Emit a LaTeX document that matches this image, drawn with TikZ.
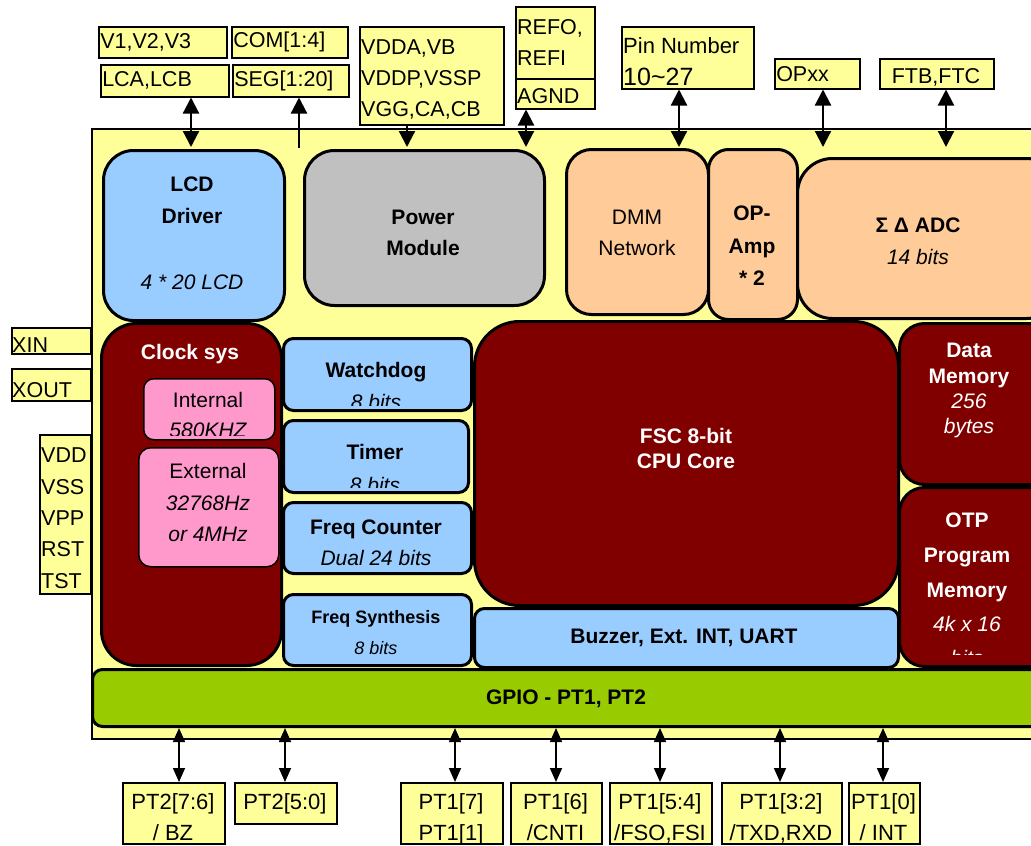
\documentclass[tikz,border=0pt]{standalone}
\usepackage{fontspec}
\setmainfont{Liberation Sans}
\usetikzlibrary{arrows.meta}
\definecolor{ylw}{HTML}{FFFF99}
\definecolor{blu}{HTML}{99CCFF}
\definecolor{gry}{HTML}{C0C0C0}
\definecolor{pch}{HTML}{FFCC99}
\definecolor{drd}{HTML}{800000}
\definecolor{pnk}{HTML}{FF99CC}
\definecolor{grn}{HTML}{99CC00}
\newcommand\myfs[2]{\fontsize{#1}{#2}\selectfont}
\begin{document}
\begin{tikzpicture}[x=1pt,y=-1pt,
  blk/.style={draw, line width=3pt, anchor=north west, inner sep=0pt},
  thinblk/.style={draw, line width=1.5pt, anchor=north west, inner sep=0pt},
  lbl/.style={draw, line width=1.5pt, fill=ylw, anchor=north west, inner xsep=1.5pt, inner ysep=0pt, align=left, font=\myfs{21.5}{25}},
  pinbox/.style={draw, line width=1.5pt, fill=ylw, anchor=north west, inner sep=0pt},
  txt/.style={inner sep=0pt, text height=15pt, text depth=0pt},
  tb/.style={txt, font=\bfseries\myfs{21}{25}},
  ti/.style={txt, font=\itshape\myfs{21}{25}},
  tr/.style={txt, font=\myfs{21}{25}},
  tl/.style={txt, anchor=west, font=\myfs{21.5}{25}},
  tbot/.style={inner sep=0pt, text height=16pt, text depth=0pt, font=\myfs{22}{25}},
  tw/.style={text=white},
  dar/.style={line width=2.2pt, {Triangle[length=16pt,width=16pt]}-{Triangle[length=16pt,width=16pt]}},
  sar/.style={line width=2.2pt, -{Triangle[length=16pt,width=16pt]}},
  gar/.style={line width=1.6pt, {Triangle[length=14pt,width=12pt]}-{Triangle[length=14pt,width=12pt]}}
]
\useasboundingbox (0,0) rectangle (1031,846);
\begin{scope}
\clip (0,0) rectangle (1031,846);
\fill[white] (0,0) rectangle (1031,846);

% chip outline
\node[pinbox, minimum width=969, minimum height=610] (chip) at (91,128) {};

% ---------- blocks ----------
\node[blk, fill=blu, rounded corners=30pt, minimum width=181, minimum height=170] (lcd) at (102,149) {};
\node[blk, fill=gry, rounded corners=30pt, minimum width=240, minimum height=155] (pwr) at (303,149) {};
\node[blk, fill=pch, rounded corners=25pt, minimum width=142, minimum height=165] (dmm) at (565,148) {};
\node[blk, fill=pch, rounded corners=20pt, minimum width=89, minimum height=170] (opa) at (707,148) {};
\node[blk, fill=pch, rounded corners=35pt, minimum width=264, minimum height=160] (adc) at (796,157) {};
\node[blk, fill=drd, rounded corners=35pt, minimum width=180, minimum height=342] (clk) at (100,322) {};
\node[thinblk, fill=pnk, rounded corners=10pt, minimum width=131, minimum height=61] (int) at (143,378) {};
\node[thinblk, fill=pnk, rounded corners=12pt, minimum width=140, minimum height=119] (ext) at (138,447) {};
\node[blk, fill=blu, rounded corners=10pt, minimum width=188, minimum height=72] (wdg) at (282,337) {};
\node[blk, fill=blu, rounded corners=10pt, minimum width=185, minimum height=72] (tmr) at (282,419) {};
\node[blk, fill=blu, rounded corners=10pt, minimum width=188, minimum height=71] (fct) at (282,501) {};
\node[blk, fill=blu, rounded corners=10pt, minimum width=188, minimum height=71] (fsy) at (282,593) {};
\node[blk, fill=drd, rounded corners=45pt, minimum width=424, minimum height=284] (cpu) at (473,320) {};
\node[blk, fill=blu, rounded corners=10pt, minimum width=424, minimum height=59] (buz) at (473,607) {};
\node[blk, fill=drd, rounded corners=25pt, minimum width=162, minimum height=161] (dmem) at (898,322) {};
\node[blk, fill=drd, rounded corners=25pt, minimum width=162, minimum height=179] (otp) at (898,486) {};
\node[blk, fill=grn, rounded corners=10pt, minimum width=969, minimum height=57] (gpio) at (91,668) {};

% ---------- block texts ----------
\node[tb] (lcdA) at (192,184) {LCD};
\node[tb] (lcdB) at (192,216) {Driver};
\node[ti] (lcdC) at (192,282) {4 * 20 LCD};
\node[tb] (pwrA) at (423,217) {Power};
\node[tb] (pwrB) at (423,248) {Module};
\node[tr] (dmmA) at (637,217) {DMM};
\node[tr] (dmmB) at (637,248) {Network};
\node[tb] (opaA) at (752,213) {OP-};
\node[tb] (opaB) at (752,246) {Amp};
\node[tb] (opaC) at (752,278) {* 2};
\node[tb] (adcA) at (918,225) {Σ Δ ADC};
\node[ti] (adcB) at (918,257) {14 bits};
\node[tb, tw] (clkA) at (190,352) {Clock sys};
\node[tr] (intA) at (208,400) {Internal};
\begin{scope}
\clip (144,379) rectangle (273,435);
\node[ti] (intB) at (208,430) {580KHZ};
\end{scope}
\node[tr] (extA) at (208,471) {External};
\node[ti] (extB) at (208,503) {32768Hz};
\node[ti] (extC) at (208,534) {or 4MHz};
\node[tb] (wdgA) at (376,370) {Watchdog};
\begin{scope}
\clip (284,339) rectangle (468,405);
\node[ti] (wdgB) at (376,401.5) {8 bits};
\end{scope}
\node[tb] (tmrA) at (375,452) {Timer};
\begin{scope}
\clip (284,421) rectangle (465,487);
\node[ti] (tmrB) at (375,484.5) {8 bits};
\end{scope}
\node[tb] (fctA) at (376,527) {Freq Counter};
\node[ti] (fctB) at (376,558) {Dual 24 bits};
\node[tb, font=\bfseries\myfs{18}{22}, text height=13pt] (fsyA) at (376,617) {Freq Synthesis};
\node[ti, font=\itshape\myfs{18}{22}, text height=13pt] (fsyB) at (376,648) {8 bits};
\node[tb, tw] (cpuA) at (686,436) {FSC 8-bit};
\node[tb, tw] (cpuB) at (686,461) {CPU Core};
\node[tb] (buzA) at (684,636) {Buzzer, Ext. INT, UART};
\node[tb, tw] (dmemA) at (969,350) {Data};
\node[tb, tw] (dmemB) at (969,376) {Memory};
\node[ti, tw] (dmemC) at (969,401) {256};
\node[ti, tw] (dmemD) at (969,426) {bytes};
\node[tb, tw] (otpA) at (967,520) {OTP};
\node[tb, tw] (otpB) at (967,555) {Program};
\node[tb, tw] (otpC) at (967,590) {Memory};
\node[ti, tw] (otpD) at (967,624) {4k x 16};
\begin{scope}
\clip (900,488) rectangle (1031,654);
\node[ti, tw] (otpE) at (967,657.5) {bits};
\end{scope}
\node[tb] (gpioA) at (566,697) {GPIO - PT1, PT2};

% ---------- top pins ----------
\node[lbl, text width=125pt, minimum height=31] (v123) at (98,26) {V1,V2,V3};
\node[lbl, text width=125pt, minimum height=32] (lca) at (100,64) {LCA,LCB};
\node[lbl, text width=113pt, minimum height=31] (com) at (231,26) {COM[1:4]};
\node[lbl, text width=113pt, minimum height=32] (seg) at (232,64) {SEG[1:20]};
\node[pinbox, minimum width=144, minimum height=98] (vdda) at (359,26) {};
\node[tl] (vddaA) at (361,47) {VDDA,VB};
\node[tl] (vddaB) at (361,78) {VDDP,VSSP};
\node[tl] (vddaC) at (361,109) {VGG,CA,CB};
\node[pinbox, minimum width=79, minimum height=102] (refo) at (515,6) {};
\node[tl] (refoA) at (517,27) {REFO,};
\node[tl] (refoB) at (517,58) {REFI};
\node[tl] (refoC) at (517,96) {AGND};
\coordinate (sepA) at (0,79);
\draw[line width=1.5pt] (refo.west |- sepA) -- (refo.east |- sepA);
\node[pinbox, minimum width=132, minimum height=62] (pin) at (621,26) {};
\node[tl, font=\myfs{22}{25}] (pinA) at (623,46) {Pin Number};
\node[tl, font=\myfs{25}{28}, text height=18pt] (pinB) at (623,76) {10\textasciitilde 27};
\node[lbl, text width=82pt, minimum height=30] (opxx) at (774,58) {OPxx};
\node[pinbox, minimum width=114, minimum height=30] (ftb) at (879,58) {};
\node[txt, font=\myfs{21.5}{25}] (ftbA) at (936,76) {FTB,FTC};

% ---------- left pins ----------
\node[pinbox, minimum width=79, minimum height=26] (xin) at (11,327) {};
\node[txt, anchor=base west, font=\myfs{21.5}{25}] (xinA) at (12,352) {XIN};
\node[pinbox, minimum width=79, minimum height=32] (xout) at (11,368) {};
\node[txt, anchor=base west, font=\myfs{21.5}{25}] (xoutA) at (12,397) {XOUT};
\node[pinbox, minimum width=51, minimum height=159] (vdd) at (39,434) {};
\node[tl] (vddA) at (41,455) {VDD};
\node[tl] (vddB) at (41,487) {VSS};
\node[tl] (vddC) at (41,518) {VPP};
\node[tl] (vddD) at (41,549) {RST};
\node[tl] (vddE) at (41,581) {TST};

% ---------- bottom pins ----------
\node[pinbox, minimum width=102, minimum height=61] (b1) at (122,782) {};
\node[tbot] (b1a) at (173,801) {PT2[7:6]};
\node[tbot] (b1b) at (173,832) {/ BZ};
\node[pinbox, minimum width=102, minimum height=41] (b2) at (234,782) {};
\node[tbot] (b2a) at (285,801) {PT2[5:0]};
\node[pinbox, minimum width=102, minimum height=61] (b3) at (400,782) {};
\node[tbot] (b3a) at (451,801) {PT1[7]};
\node[tbot] (b3b) at (451,832) {PT1[1]};
\node[pinbox, minimum width=91, minimum height=61] (b4) at (510,782) {};
\node[tbot] (b4a) at (555.5,801) {PT1[6]};
\node[tbot] (b4b) at (555.5,832) {/CNTI};
\node[pinbox, minimum width=102, minimum height=61] (b5) at (609,782) {};
\node[tbot] (b5a) at (660,801) {PT1[5:4]};
\node[tbot] (b5b) at (660,832) {/FSO,FSI};
\node[pinbox, minimum width=120, minimum height=61] (b6) at (721,782) {};
\node[tbot] (b6a) at (781,801) {PT1[3:2]};
\node[tbot] (b6b) at (781,832) {/TXD,RXD};
\node[pinbox, minimum width=71, minimum height=61] (b7) at (848,782) {};
\node[tbot] (b7a) at (883.5,801) {PT1[0]};
\node[tbot] (b7b) at (883.5,832) {/ INT};

% ---------- top connectors ----------
\coordinate (aL) at (191,147);
\coordinate (aS) at (299,148);
\coordinate (aV) at (407,147);
\coordinate (aA) at (526,147);
\coordinate (aP) at (679,147);
\coordinate (aO) at (823,147);
\coordinate (aF) at (946,147);
\draw[dar] (lca.south -| aL) -- (aL);
\draw[sar] (aS) -- (seg.south -| aS);
\draw[sar] (vdda.south -| aV) -- (aV);
\draw[dar] (refo.south -| aA) -- (aA);
\draw[dar] (pin.south -| aP) -- (aP);
\draw[dar] (opxx.south -| aO) -- (aO);
\draw[dar] (ftb.south -| aF) -- (aF);

% ---------- bottom connectors ----------
\coordinate (g1) at (179,0);
\coordinate (g2) at (285,0);
\coordinate (g3) at (455,0);
\coordinate (g4) at (556,0);
\coordinate (g5) at (660,0);
\coordinate (g6) at (780,0);
\coordinate (g7) at (883,0);
\draw[gar] (gpio.south -| g1) -- (b1.north -| g1);
\draw[gar] (gpio.south -| g2) -- (b2.north -| g2);
\draw[gar] (gpio.south -| g3) -- (b3.north -| g3);
\draw[gar] (gpio.south -| g4) -- (b4.north -| g4);
\draw[gar] (gpio.south -| g5) -- (b5.north -| g5);
\draw[gar] (gpio.south -| g6) -- (b6.north -| g6);
\draw[gar] (gpio.south -| g7) -- (b7.north -| g7);
\end{scope}
\end{tikzpicture}
\end{document}
